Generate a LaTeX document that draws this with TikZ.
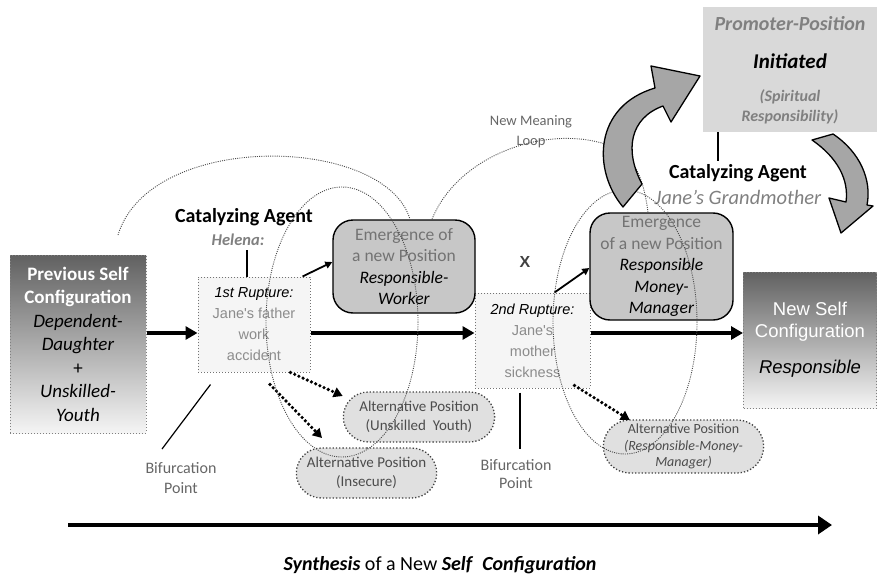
\documentclass[tikz,border=0pt]{standalone}
\usepackage{fontspec}
\setmainfont{Carlito}
\newfontfamily\arialfont{Liberation Sans}
\usetikzlibrary{positioning, calc, arrows.meta, shapes.misc}

\begin{document}
\begin{tikzpicture}[x=1pt, y=-1pt,
        configbox/.style={text centered, align=center, draw=black!50, dotted, line width=1pt, shading=axis, top color=black!62, bottom color=black!4, inner sep=2pt},
        rupturebox/.style={text centered, align=center, draw=black!55, dotted, line width=1pt, fill=black!4, font=\arialfont\fontsize{14.5}{21}\selectfont},
        emergebox/.style={text centered, align=center, draw=black, line width=1.4pt, fill=black!22, rounded corners=20pt, font=\fontsize{17.5}{21.5}\selectfont},
        altbox/.style={rounded rectangle, text centered, align=center, draw=black!75, dotted, line width=1.3pt, fill=black!12, font=\fontsize{15}{18.5}\selectfont},
        spine/.style={line width=3.5pt, -{Triangle[length=12pt, width=13pt]}},
        thinarrow/.style={line width=1.8pt, -{Triangle[length=7pt, width=7pt]}},
        altarrow/.style={line width=3.6pt, line cap=round, dash pattern=on 0pt off 4.6pt, -{Triangle[length=9pt, width=10pt]}},
        loopline/.style={black!70, line width=0.9pt, dash pattern=on 1pt off 1.2pt},
        blockarrow/.style={fill=black!35, draw=black, line width=1.3pt, line join=round},
        graytext/.style={text=black!50}]
        \useasboundingbox (0,0) rectangle (877,578);

        \coordinate (Spine) at (0,333);

        % configurations
        \node (PrevSelf) at (78,344) [configbox, minimum width=136pt, minimum height=178pt, font=\fontsize{19}{23.5}\selectfont]{\textcolor{white}{\bfseries Previous Self}\\\textcolor{white}{\bfseries Configuration}\\\textit{Dependent-}\\\textit{Daughter}\\+\\\textit{Unskilled-}\\\textit{Youth}};
        \node (NewSelf) at (810,340) [configbox, minimum width=133pt, minimum height=136pt, font=\arialfont\fontsize{18.5}{22}\selectfont]{\textcolor{white}{New Self}\\\textcolor{white}{Configuration}\\[14pt]\textit{Responsible}};

        % ruptures
        \node (RuptureOne) at (254,324.5) [rupturebox, minimum width=112pt, minimum height=95pt]{\textit{1st Rupture:}\\\textcolor{black!45}{Jane's father}\\\textcolor{black!45}{work}\\\textcolor{black!45}{accident}};
        \node (RuptureTwo) at (532.5,340.5) [rupturebox, minimum width=115pt, minimum height=95pt]{\textit{2nd Rupture:}\\\textcolor{black!45}{Jane's}\\\textcolor{black!45}{mother}\\\textcolor{black!45}{sickness}};

        % emerging positions
        \node (EmergeOne) at (404,266.5) [emergebox, minimum width=142pt, minimum height=93pt]{\textcolor{black!55}{Emergence of}\\\textcolor{black!55}{a new Position}\\\textit{Responsible-}\\\textit{Worker}};
        \node (EmergeTwo) at (661.5,266.5) [emergebox, minimum width=143pt, minimum height=107pt]{\textcolor{black!55}{Emergence}\\\textcolor{black!55}{of a new Position}\\\textit{Responsible}\\\textit{Money-}\\\textit{Manager}};

        % alternative positions
        \node (AltUnskilled) at (419,417) [altbox, minimum width=158pt, minimum height=50pt]{\textcolor{black!70}{Alternative Position}\\\textcolor{black!70}{(Unskilled~~Youth)}};
        \node (AltInsecure) at (366.5,473) [altbox, minimum width=147pt, minimum height=50pt]{\textcolor{black!70}{Alternative Position}\\\textcolor{black!70}{(Insecure)}};
        \node (AltMoney) at (683.5,446.5) [altbox, minimum width=167pt, minimum height=53pt, font=\fontsize{14}{16.5}\selectfont]{\textcolor{black!70}{Alternative Position}\\\textcolor{black!70}{\textit{(Responsible-Money-}}\\\textcolor{black!70}{\textit{Manager)}}};

        % promoter position
        \node (Promoter) at (790,69.5) [fill=black!15, minimum width=174pt, minimum height=125pt, text centered, align=center]{};
        \node (PromoterTitle) at ($(Promoter.north) + (0,17)$) [graytext, font=\fontsize{20}{22}\selectfont\bfseries\itshape]{Promoter-Position};
        \node (Initiated) at ($(Promoter.north) + (0,54)$) [font=\fontsize{21}{24}\selectfont\bfseries\itshape]{Initiated};
        \node (Spiritual) at ($(Promoter.north) + (0,100)$) [graytext, align=center, font=\fontsize{16}{20}\selectfont\bfseries\itshape]{(Spiritual\\Responsibility)};

        % catalyzing agents
        \node (AgentOne) at (244,217) [font=\fontsize{20}{22}\selectfont\bfseries]{Catalyzing Agent};
        \node (Helena) at (238,240) [graytext, font=\fontsize{16.5}{20}\selectfont\bfseries\itshape]{Helena:};
        \node (AgentTwo) at (738,173) [font=\fontsize{20}{22}\selectfont\bfseries]{Catalyzing Agent};
        \node (Grandmother) at (738,197) [graytext, font=\fontsize{20.5}{22}\selectfont\itshape]{Jane's Grandmother};
        \draw[line width=1.3pt] (RuptureOne.north -| 247,0) -- (247,250);
        \draw[line width=1.3pt] (Promoter.south -| 718,0) -- (718,161);

        % labels
        \node (MarkX) at (525,262) [text=black!75, font=\arialfont\fontsize{16}{18}\selectfont\bfseries]{X};
        \node (MeaningLoop) at (531,132) [text=black!60, align=center, font=\fontsize{14.5}{20}\selectfont]{New Meaning\\Loop};
        \node (BifurOne) at (181,478) [text=black!60, align=center, font=\fontsize{16}{20}\selectfont]{Bifurcation\\Point};
        \node (BifurTwo) at (516,474) [text=black!60, align=center, font=\fontsize{16}{18}\selectfont]{Bifurcation\\Point};
        \draw[line width=1.2pt] ($(RuptureOne.south west) + (13,12)$) -- (162,449);
        \draw[line width=1.2pt] (RuptureTwo.south -| 520,0) ++(0,4) -- (520,449);

        % main path
        \draw[spine] (PrevSelf.east |- Spine) -- (RuptureOne.west |- Spine);
        \draw[spine] (RuptureOne.east |- Spine) -- (RuptureTwo.west |- Spine);
        \draw[spine] (RuptureTwo.east |- Spine) -- (NewSelf.west |- Spine);
        \draw[thinarrow] ($(RuptureOne.north east) + (-8,0)$) -- (EmergeOne.west |- 0,262);
        \draw[thinarrow] ($(RuptureTwo.north west) + (80,0)$) -- (EmergeTwo.west |- 0,268);
        \draw[altarrow] ($(RuptureOne.south east) + (-20,0)$) -- (AltUnskilled.west |- 0,396);
        \draw[altarrow] ($(RuptureOne.south) + (16,12)$) -- (322,438);
        \draw[altarrow] ($(RuptureTwo.south) + (42,-3)$) -- (AltMoney.north west |- 0,420);

        % meaning loops
        \draw[loopline] (342,322) ellipse [x radius=76, y radius=135];
        \draw[loopline] (625,322) ellipse [x radius=72, y radius=132];
        \draw[loopline] (118,235) .. controls (150,130) and (385,135) .. (EmergeOne.north -| 410,0);
        \draw[loopline] (EmergeOne.north -| 432,0) .. controls (460,150) and (560,120) .. (620,150) .. controls (640,165) and (645,190) .. (EmergeTwo.north -| 648,0);

        % block arrows
        \filldraw[blockarrow] (623,207) .. controls (592,170) and (594,106) .. (655,88) -- (651,66) -- (700,76) -- (671,122) -- (663,106) .. controls (630,118) and (624,150) .. (642,184) -- cycle;
        \filldraw[blockarrow] (812,140) -- (833,134) .. controls (860,152) and (872,180) .. (867,205) -- (873,206) -- (841,233) -- (829,198) -- (846,202) .. controls (849,180) and (838,158) .. (812,140) -- cycle;

        % synthesis
        \coordinate (TimeStart) at (68,525);
        \coordinate (TimeEnd) at (832,525);
        \draw[line width=4.5pt, -{Triangle[length=14pt, width=18pt]}] (TimeStart) -- (TimeEnd);
        \node (Synthesis) at (440,565) [font=\fontsize{20}{22}\selectfont]{\textbf{\textit{Synthesis}} of a New \textbf{\textit{Self}}~~\textbf{\textit{Configuration}}};
\end{tikzpicture}
\end{document}
